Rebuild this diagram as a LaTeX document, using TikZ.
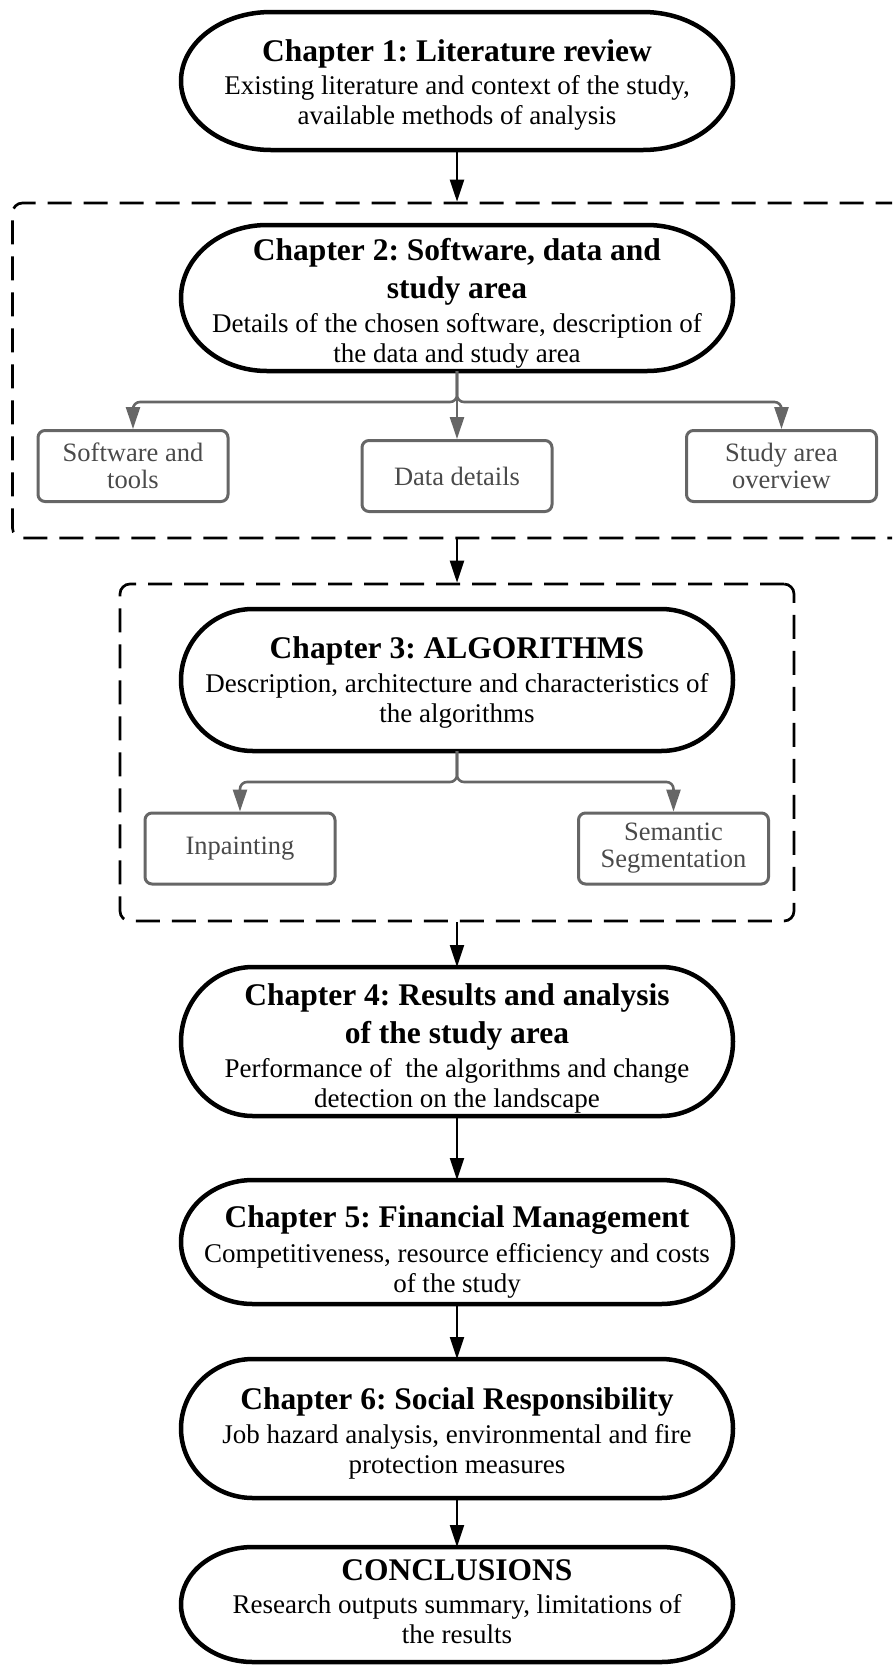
\documentclass[tikz,border=0pt]{standalone}
\usepackage{fontspec}
\setmainfont{Liberation Serif}
\usetikzlibrary{calc,arrows.meta}
\frenchspacing

\definecolor{boxgray}{HTML}{666666}
\definecolor{labelgray}{HTML}{4A4A4A}

\newcommand\chaptitle{\fontsize{31.5}{30}\selectfont\bfseries}
\newcommand\chapbody{\fontsize{27}{30}\selectfont\mdseries}

% Stadium outline around a node: #1 = node name, #2 = horizontal depth of the rounded ends
\newcommand\stadiumoutline[2]{%
  \draw[stadline] let \p1=(#1.north), \p2=(#1.south),
      \n1={(\y1-\y2)/2}, \n2={0.5523*\n1}, \n3={(1-0.5523)*#2} in
    ([xshift=#2]#1.north west) -- ([xshift=-#2]#1.north east)
    .. controls ([xshift=-\n3]#1.north east) and ([yshift=\n2]#1.east) .. (#1.east)
    .. controls ([yshift=-\n2]#1.east) and ([xshift=-\n3]#1.south east) .. ([xshift=-#2]#1.south east)
    -- ([xshift=#2]#1.south west)
    .. controls ([xshift=\n3]#1.south west) and ([yshift=-\n2]#1.west) .. (#1.west)
    .. controls ([yshift=\n2]#1.west) and ([xshift=\n3]#1.north west) .. cycle;
}

\tikzset{
  stad/.style={rectangle, inner sep=0pt, outer sep=0pt, minimum width=552pt},
  stadline/.style={line width=4.5pt, black},
  stadtext/.style={align=center, inner sep=0pt, font=\chapbody},
  frame/.style={draw, black, dash pattern=on 24pt off 12pt, line width=2.7pt,
    rounded corners=10pt, inner sep=0pt},
  subbox/.style={draw=boxgray, line width=3pt, rounded corners=7pt,
    minimum width=190pt, minimum height=71pt, align=center, text=labelgray,
    font=\fontsize{26.5}{27}\selectfont, inner sep=0pt},
  flow/.style={-{Triangle[length=22pt,width=14pt]}, line width=2.2pt, black},
  branch/.style={-{Triangle[length=22pt,width=14pt]}, line width=2.6pt, boxgray,
    rounded corners=7pt},
}

\begin{document}
\begin{tikzpicture}[x=1pt, y=-1pt]
\useasboundingbox (0,0) rectangle (892,1666);
\clip (0,0) rectangle (892,1666);

% dashed group frames
\node[frame, minimum width=897pt, minimum height=335pt] (g1) at (461,370.5) {};
\node[frame, minimum width=674pt, minimum height=337pt] (g2) at (457,752.5) {};

% chapter stadiums
\node[stad, minimum height=138pt] (c1) at (457,81) {};
\node[stad, minimum height=146pt] (c2) at (457,298) {};
\node[stad, minimum height=142pt] (c3) at (457,680) {};
\node[stad, minimum height=149pt] (c4) at (457,1041.5) {};
\node[stad, minimum height=124pt] (c5) at (457,1242) {};
\node[stad, minimum height=139pt] (c6) at (457,1428.5) {};
\node[stad, minimum height=115pt] (c7) at (457,1604.5) {};
\stadiumoutline{c1}{90pt}
\stadiumoutline{c2}{86pt}
\stadiumoutline{c3}{72pt}
\stadiumoutline{c4}{72pt}
\stadiumoutline{c5}{72pt}
\stadiumoutline{c6}{72pt}
\stadiumoutline{c7}{72pt}

% chapter texts
\node[stadtext] (t1) at (457,84.7) {%
  {\chaptitle Chapter 1: Literature review}\\[3pt]
  {\chapbody Existing literature and context of the study,}\\
  {\chapbody available methods of analysis}};
\node[stadtext] (t2) at (457,303.2) {%
  {\chaptitle Chapter 2: Software, data and}\\[8pt]
  {\chaptitle study area}\\[4pt]
  {\chapbody Details of the chosen software, description of}\\
  {\chapbody the data and study area}};
\node[stadtext] (t3) at (457,682.2) {%
  {\chaptitle Chapter 3: ALGORITHMS}\\[4pt]
  {\chapbody Description, architecture and characteristics of}\\
  {\chapbody the algorithms}};
\node[stadtext] (t4) at (457,1048) {%
  {\chaptitle Chapter 4: Results and analysis}\\[8pt]
  {\chaptitle of the study area}\\[4pt]
  {\chapbody Performance of\ \ the algorithms and change}\\
  {\chapbody detection on the landscape}};
\node[stadtext] (t5) at (457,1252) {%
  {\chaptitle Chapter 5: Financial Management}\\[5pt]
  {\chapbody Competitiveness, resource efficiency and costs}\\
  {\chapbody of the study}};
\node[stadtext] (t6) at (457,1433) {%
  {\chaptitle Chapter 6: Social Responsibility}\\[4pt]
  {\chapbody Job hazard analysis, environmental and fire}\\
  {\chapbody protection measures}};
\node[stadtext] (t7) at (457,1602) {%
  {\chaptitle CONCLUSIONS}\\[3pt]
  {\chapbody Research outputs summary, limitations of}\\
  {\chapbody the results}};

% sub-topic boxes
\node[subbox] (sw)  at (133,466)    {Software and\\tools};
\node[subbox] (dd)  at (457,476)    {Data details};
\node[subbox] (sa)  at (781.5,466)  {Study area\\overview};
\node[subbox] (inp) at (240,848.5)  {Inpainting};
\node[subbox] (seg) at (673.5,848.5){Semantic\\Segmentation};

% branch connectors
\coordinate (j2) at (457,402);
\coordinate (j3) at (457,782);
\draw[branch] (c2.south) -- (j2) -| (sw.north);
\draw[branch] (c2.south) -- (j2) -| (sa.north);
\draw[branch] (c2.south) -- (dd.north);
\draw[branch] (c3.south) -- (j3) -| (inp.north);
\draw[branch] (c3.south) -- (j3) -| (seg.north);

% main flow
\draw[flow] (c1.south) -- (c1.south |- g1.north);
\draw[flow] (c2.south |- g1.south) -- (g2.north);
\draw[flow] (g2.south) -- (c4.north);
\draw[flow] (c4.south) -- (c5.north);
\draw[flow] (c5.south) -- (c6.north);
\draw[flow] (c6.south) -- (c7.north);
\end{tikzpicture}
\end{document}
